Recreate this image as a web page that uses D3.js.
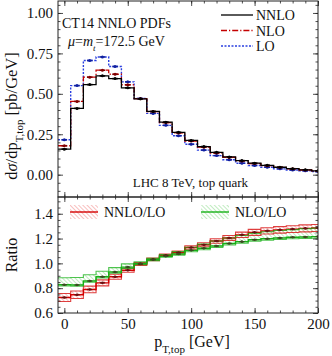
<!DOCTYPE html>
<html lang="en">
<head>
<meta charset="utf-8">
<title>top pT</title>
<script src="https://cdn.jsdelivr.net/npm/d3@7"></script>
<style>
  body { margin: 0; background: #fff; }
  svg { display: block; }
  text { font-family: "Liberation Serif", "DejaVu Serif", serif; fill: #111; }
  .axis path { display: none; }
  .axis line { stroke: #222; stroke-width: 0.8; }
  .axis text { font-size: 15px; font-family: "Liberation Serif", serif; }
</style>
</head>
<body>
<script>
// bin centres in GeV (bins are 10 GeV wide)
var pt = [0, 10, 20, 30, 40, 50, 60, 70, 80, 90, 100, 110, 120, 130, 140, 150, 160, 170, 180, 190, 200];
// dsigma/dpT [pb/GeV]
var nnlo = [0.158, 0.410, 0.557, 0.611, 0.594, 0.537, 0.469, 0.391, 0.325, 0.262, 0.212, 0.174, 0.138, 0.110, 0.087, 0.071, 0.058, 0.046, 0.037, 0.030, 0.024];
var nlo  = [0.179, 0.453, 0.603, 0.646, 0.621, 0.556, 0.470, 0.390, 0.322, 0.258, 0.208, 0.170, 0.134, 0.107, 0.085, 0.069, 0.056, 0.045, 0.036, 0.029, 0.023];
var lo   = [0.216, 0.551, 0.706, 0.728, 0.669, 0.574, 0.471, 0.379, 0.305, 0.241, 0.188, 0.152, 0.118, 0.092, 0.071, 0.057, 0.046, 0.036, 0.029, 0.024, 0.019];
// ratios
var nnloLo    = [0.725, 0.747, 0.790, 0.843, 0.892, 0.945, 0.995, 1.032, 1.065, 1.088, 1.128, 1.150, 1.180, 1.205, 1.230, 1.250, 1.262, 1.270, 1.276, 1.282, 1.285];
var nnloLoErr = [0.032, 0.030, 0.027, 0.024, 0.020, 0.016, 0.012, 0.010, 0.010, 0.012, 0.014, 0.016, 0.018, 0.020, 0.022, 0.024, 0.025, 0.026, 0.027, 0.028, 0.028];
var nloLo     = [0.828, 0.826, 0.858, 0.892, 0.930, 0.970, 0.998, 1.030, 1.058, 1.075, 1.105, 1.122, 1.140, 1.160, 1.175, 1.190, 1.198, 1.205, 1.210, 1.213, 1.216];
var nloLoUp   = [0.884, 0.886, 0.908, 0.936, 0.966, 0.996, 1.012, 1.040, 1.072, 1.095, 1.130, 1.155, 1.180, 1.205, 1.225, 1.242, 1.255, 1.265, 1.272, 1.280, 1.284];
var nloLoDn   = [0.818, 0.816, 0.848, 0.882, 0.920, 0.960, 0.990, 1.022, 1.050, 1.065, 1.094, 1.110, 1.128, 1.148, 1.163, 1.178, 1.186, 1.193, 1.198, 1.200, 1.203];

var xTicks = [0, 50, 100, 150, 200];
var yTopTicks = [0, 0.25, 0.5, 0.75, 1.0];
var yBotTicks = [0.6, 0.8, 1.0, 1.2, 1.4];

var W = 332, H = 356;
var L = 58, R = 318, T1 = 1, B1 = 197, T2 = 197, B2 = 313;

var svg = d3.select("body").append("svg").attr("width", W).attr("height", H);

var x = d3.scaleLinear().domain([-5, 200]).range([L, R]);
var yT = d3.scaleLinear().domain([-0.138, 1.074]).range([B1, T1]);
var yB = d3.scaleLinear().domain([0.6, 1.535]).range([B2, T2]);

var defs = svg.append("defs");
defs.append("clipPath").attr("id", "c1").append("rect").attr("x", L).attr("y", T1).attr("width", R - L).attr("height", B1 - T1);
defs.append("clipPath").attr("id", "c2").append("rect").attr("x", L).attr("y", T2).attr("width", R - L).attr("height", B2 - T2);
function hatch(id, col) {
  var p = defs.append("pattern").attr("id", id).attr("patternUnits", "userSpaceOnUse")
    .attr("width", 3).attr("height", 3).attr("patternTransform", "rotate(-45)");
  p.append("line").attr("x1", 0).attr("y1", 0).attr("x2", 0).attr("y2", 3)
    .attr("stroke", col).attr("stroke-width", 1.1);
}
hatch("hr", "#f28a8a");
hatch("hg", "#8ddc8d");

// turn bin values into step points
function steps(vals) {
  var out = [];
  vals.forEach(function (v, i) {
    out.push([Math.max(pt[i] - 5, -5), v]);
    out.push([Math.min(pt[i] + 5, 200), v]);
  });
  return out;
}
function stepsBand(lo_, hi_) {
  var out = [];
  lo_.forEach(function (v, i) {
    out.push([Math.max(pt[i] - 5, -5), v, hi_[i]]);
    out.push([Math.min(pt[i] + 5, 200), v, hi_[i]]);
  });
  return out;
}

var g1 = svg.append("g").attr("clip-path", "url(#c1)");
var g2 = svg.append("g").attr("clip-path", "url(#c2)");

var lineT = d3.line().x(function (d) { return x(d[0]); }).y(function (d) { return yT(d[1]); });
var lineB = d3.line().x(function (d) { return x(d[0]); }).y(function (d) { return yB(d[1]); });

var series = [
  { vals: lo, col: "#2a3fe0", dark: "#1020a0", dash: "2,1.5", w: 1.4 },
  { vals: nlo, col: "#c40000", dark: "#800000", dash: "6,2,1.2,2", w: 1.3 },
  { vals: nnlo, col: "#000", dark: "#000", dash: null, w: 1.3 }
];
series.forEach(function (s) {
  g1.append("path").attr("d", lineT(steps(s.vals))).attr("fill", "none")
    .attr("stroke", s.col).attr("stroke-width", s.w).attr("stroke-dasharray", s.dash);
});
series.forEach(function (s) {
  g1.selectAll(null).data(s.vals).enter().append("line")
    .attr("x1", function (d, i) { return x(pt[i] - 2.2); })
    .attr("x2", function (d, i) { return x(pt[i] + 2.2); })
    .attr("y1", function (d) { return yT(d); }).attr("y2", function (d) { return yT(d); })
    .attr("stroke", s.dark).attr("stroke-width", 1.6);
  g1.selectAll(null).data(s.vals).enter().append("circle")
    .attr("cx", function (d, i) { return x(pt[i]); })
    .attr("cy", function (d) { return yT(d); })
    .attr("r", 1.5).attr("fill", s.dark);
});

// ratio panel
var area = d3.area().x(function (d) { return x(d[0]); })
  .y0(function (d) { return yB(d[1]); }).y1(function (d) { return yB(d[2]); });

var rDn = nnloLo.map(function (v, i) { return v - nnloLoErr[i]; });
var rUp = nnloLo.map(function (v, i) { return v + nnloLoErr[i]; });

var ratios = [
  { c: nnloLo, dn: rDn, up: rUp, col: "#d40000", fill: "url(#hr)", dark: "#6a1010" },
  { c: nloLo, dn: nloLoDn, up: nloLoUp, col: "#16b016", fill: "url(#hg)", dark: "#3a4a20" }
];
ratios.forEach(function (r) {
  g2.append("path").attr("d", area(stepsBand(r.dn, r.up))).attr("fill", r.fill);
});
ratios.forEach(function (r) {
  [r.dn, r.up].forEach(function (e) {
    g2.append("path").attr("d", lineB(steps(e))).attr("fill", "none")
      .attr("stroke", r.col).attr("stroke-width", 1.1).attr("stroke-opacity", 0.75);
  });
  g2.append("path").attr("d", lineB(steps(r.c))).attr("fill", "none")
    .attr("stroke", r.col).attr("stroke-width", 1.4);
});
ratios.forEach(function (r) {
  g2.selectAll(null).data(r.c).enter().append("line")
    .attr("x1", function (d, i) { return x(pt[i] - 2); })
    .attr("x2", function (d, i) { return x(pt[i] + 2); })
    .attr("y1", function (d) { return yB(d); }).attr("y2", function (d) { return yB(d); })
    .attr("stroke", r.dark).attr("stroke-width", 1.4);
  g2.selectAll(null).data(r.c).enter().append("circle")
    .attr("cx", function (d, i) { return x(pt[i]); })
    .attr("cy", function (d) { return yB(d); })
    .attr("r", 1.3).attr("fill", r.dark);
});

// axes: inward ticks on all four sides
function minor(lo_, hi_, step) { return d3.range(lo_, hi_ + step / 2, step); }
function axes(yS, top, bot, major, mn, fmt, showX) {
  svg.append("g").attr("class", "axis").attr("transform", "translate(" + L + ",0)")
    .call(d3.axisLeft(yS).tickValues(major).tickSize(-5).tickPadding(5).tickFormat(fmt));
  svg.append("g").attr("class", "axis").attr("transform", "translate(" + L + ",0)")
    .call(d3.axisLeft(yS).tickValues(mn).tickSize(-2.5).tickFormat(""));
  svg.append("g").attr("class", "axis").attr("transform", "translate(" + R + ",0)")
    .call(d3.axisRight(yS).tickValues(major).tickSize(-5).tickFormat(""));
  svg.append("g").attr("class", "axis").attr("transform", "translate(" + R + ",0)")
    .call(d3.axisRight(yS).tickValues(mn).tickSize(-2.5).tickFormat(""));
  svg.append("g").attr("class", "axis").attr("transform", "translate(0," + bot + ")")
    .call(d3.axisBottom(x).tickValues(xTicks).tickSize(-5).tickPadding(5).tickFormat(showX ? d3.format("d") : ""));
  svg.append("g").attr("class", "axis").attr("transform", "translate(0," + bot + ")")
    .call(d3.axisBottom(x).tickValues(minor(0, 200, 10)).tickSize(-2.5).tickFormat(""));
  svg.append("g").attr("class", "axis").attr("transform", "translate(0," + top + ")")
    .call(d3.axisTop(x).tickValues(xTicks).tickSize(-5).tickFormat(""));
  svg.append("g").attr("class", "axis").attr("transform", "translate(0," + top + ")")
    .call(d3.axisTop(x).tickValues(minor(0, 200, 10)).tickSize(-2.5).tickFormat(""));
  svg.append("rect").attr("x", L).attr("y", top).attr("width", R - L).attr("height", bot - top)
    .attr("fill", "none").attr("stroke", "#222").attr("stroke-width", 1);
}
axes(yT, T1, B1, yTopTicks, minor(-0.1, 1.05, 0.05), d3.format(".2f"), false);
axes(yB, T2, B2, yBotTicks, minor(0.6, 1.5, 0.05), d3.format(".1f"), true);

// titles
var yt = svg.append("text").attr("transform", "translate(17,116) rotate(-90)")
  .attr("text-anchor", "middle").style("font-size", "16.5px");
yt.append("tspan").text("d");
yt.append("tspan").style("font-style", "italic").text("σ");
yt.append("tspan").text("/dp");
yt.append("tspan").attr("baseline-shift", "sub").style("font-size", "11px").text("T,top");
yt.append("tspan").text(" [pb/GeV]");

svg.append("text").attr("transform", "translate(17,255) rotate(-90)")
  .attr("text-anchor", "middle").style("font-size", "16px").text("Ratio");

var xt = svg.append("text").attr("x", 192).attr("y", 347).attr("text-anchor", "middle").style("font-size", "16px");
xt.append("tspan").text("p");
xt.append("tspan").attr("baseline-shift", "sub").style("font-size", "11px").text("T,top");
xt.append("tspan").text(" [GeV]");

// annotations
svg.append("text").attr("x", 62).attr("y", 28).style("font-size", "14px").text("CT14 NNLO PDFs");
var mu = svg.append("text").attr("x", 68).attr("y", 46).style("font-size", "14px");
mu.append("tspan").style("font-style", "italic").text("μ");
mu.append("tspan").text("=");
mu.append("tspan").style("font-style", "italic").text("m");
mu.append("tspan").attr("baseline-shift", "sub").style("font-size", "9px").style("font-style", "italic").text("t");
mu.append("tspan").text("=172.5 GeV");
svg.append("text").attr("x", 248).attr("y", 187).attr("text-anchor", "end").style("font-size", "13px")
  .text("LHC 8 TeV, top quark");

// top legend
var legTop = [
  { name: "NNLO", s: series[2] },
  { name: "NLO", s: series[1] },
  { name: "LO", s: series[0] }
];
legTop.forEach(function (d, i) {
  var yy = 15 + i * 15.5;
  svg.append("line").attr("x1", 221).attr("x2", 253).attr("y1", yy).attr("y2", yy)
    .attr("stroke", d.s.col).attr("stroke-width", d.s.w).attr("stroke-dasharray", d.s.dash);
  svg.append("text").attr("x", 256).attr("y", yy + 5).style("font-size", "14px").text(d.name);
});

// ratio legend
var legBot = [
  { name: "NNLO/LO", r: ratios[0], x0: 70 },
  { name: "NLO/LO", r: ratios[1], x0: 201 }
];
legBot.forEach(function (d) {
  svg.append("rect").attr("x", d.x0).attr("y", 205).attr("width", 28).attr("height", 14).attr("fill", d.r.fill);
  svg.append("line").attr("x1", d.x0).attr("x2", d.x0 + 28).attr("y1", 212).attr("y2", 212)
    .attr("stroke", d.r.col).attr("stroke-width", 1.4);
  svg.append("text").attr("x", d.x0 + 34).attr("y", 217).style("font-size", "14px").text(d.name);
});
</script>
</body>
</html>
